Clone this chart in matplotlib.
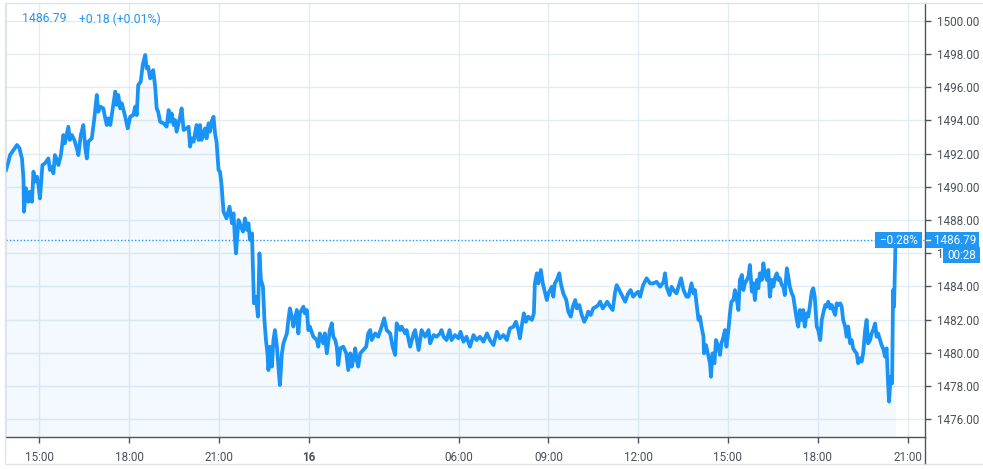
import matplotlib.pyplot as plt
from matplotlib.lines import Line2D
from matplotlib.patches import Rectangle
from matplotlib.transforms import blended_transform_factory

plt.rcParams["font.family"] = ["Roboto", "DejaVu Sans"]

# trading minutes since 15:00 on the 15th (the one hour session break is left out of the axis)
minutes = [
    -67, -62, -59, -52, -45, -40, -35, -32, -31, -27, -22, -19, -15, -12, -9, -5, -2, 1, 6, 11,
    18, 21, 25, 28, 31, 35, 38, 43, 48, 51, 58, 61, 65, 70, 75, 78, 83, 88, 92, 95,
    98, 105, 110, 115, 118, 122, 128, 132, 135, 138, 142, 148, 152, 155, 158, 162, 165, 172, 177, 182,
    188, 192, 195, 198, 203, 207, 212, 215, 218, 222, 225, 228, 232, 235, 238, 242, 249, 255, 259, 262,
    265, 269, 272, 275, 282, 285, 289, 295, 299, 302, 305, 309, 312, 315, 319, 322, 325, 332, 335, 339,
    342, 345, 349, 352, 355, 359, 362, 365, 369, 375,
    381, 386, 389, 392, 394, 399, 404, 408, 412, 416, 419, 422, 426, 428, 430, 434, 438, 441, 444, 448,
    451, 454, 457, 459, 462, 466, 469, 472, 476, 479, 482, 486, 489, 496, 499, 502, 506, 509, 516, 519,
    522, 529, 532, 536, 539, 542, 549, 556, 559, 562, 569, 572, 576, 582, 586, 589, 593, 596, 599, 603,
    609, 615, 619, 623, 626, 629, 633, 636, 639, 643, 649, 655, 659, 663, 666, 673, 679, 686, 691, 696,
    703, 708, 713, 716, 723, 726, 733, 736, 743, 750, 753, 760, 766, 773, 780, 783, 790, 796, 803, 806,
    810, 816, 822,
    826, 833, 840, 844, 850, 856, 863, 870, 876, 883, 890, 897, 903, 910, 917, 923, 930, 937, 943, 950,
    955, 960, 963, 967, 971, 975, 980, 987, 991, 993, 997, 1000, 1005, 1009, 1013, 1017, 1020, 1027, 1030, 1033,
    1037, 1042, 1045, 1050, 1056, 1060, 1065, 1069, 1074, 1077, 1082, 1087, 1092, 1097, 1100, 1105, 1110, 1116, 1120, 1124,
    1129, 1134, 1138, 1144, 1149, 1154, 1157, 1164, 1169, 1174, 1180, 1185, 1190, 1196, 1200, 1204, 1210, 1217, 1224, 1230,
    1237, 1244, 1251, 1254, 1257, 1263, 1267, 1271, 1277, 1283, 1286, 1291, 1297,
    1301, 1304, 1307, 1311, 1314, 1317, 1321, 1324, 1327, 1331, 1332, 1336, 1341, 1344, 1346, 1349, 1353, 1356, 1361, 1364,
    1367, 1371, 1374, 1377, 1381, 1384, 1387, 1391, 1394, 1398, 1401, 1404, 1408, 1411, 1414, 1418, 1421, 1424, 1428, 1431,
    1434, 1438, 1441, 1444, 1448, 1451, 1454, 1458, 1461, 1464, 1468, 1471, 1474, 1478, 1481, 1484, 1488, 1491, 1494, 1498,
    1501, 1504, 1508, 1511, 1514, 1518, 1521, 1524, 1528, 1531, 1534, 1538, 1541, 1544, 1548, 1551, 1554, 1558, 1561, 1565,
    1568, 1571, 1575, 1578, 1581, 1585, 1588, 1591, 1595, 1598, 1601, 1605, 1608, 1611, 1615, 1618, 1621, 1625, 1628, 1631,
    1635, 1638, 1641, 1645, 1648, 1651, 1655, 1658, 1661, 1665, 1668, 1671, 1675, 1678, 1681, 1685, 1688, 1691, 1695, 1698,
    1701, 1703, 1706, 1709, 1711, 1713, 1716,
]

prices = [
    1491.01, 1491.51, 1491.91, 1492.21, 1492.52, 1492.32, 1491.71, 1490.51, 1488.50, 1489.91,
    1489.10, 1489.70, 1489.10, 1490.91, 1490.31, 1490.61, 1490.11, 1489.30, 1491.31, 1491.41,
    1491.71, 1491.01, 1491.21, 1490.81, 1491.91, 1491.61, 1491.31, 1491.91, 1493.12, 1492.62,
    1493.62, 1492.82, 1493.12, 1492.82, 1492.32, 1491.91, 1493.12, 1493.72, 1492.32, 1491.71,
    1492.72, 1492.92, 1494.12, 1495.53, 1494.52, 1494.83, 1494.72, 1494.12, 1493.72, 1494.12,
    1493.72, 1494.93, 1495.73, 1494.93, 1495.53, 1494.72, 1495.03, 1494.22, 1493.52, 1494.22,
    1494.32, 1494.83, 1494.32, 1496.13, 1496.33, 1497.34, 1497.94, 1497.13, 1497.23, 1496.53,
    1496.63, 1497.03, 1496.03, 1494.72, 1494.52, 1493.92, 1493.82, 1493.62, 1494.62, 1493.92,
    1494.42, 1493.72, 1494.02, 1493.32, 1494.22, 1494.72, 1493.42, 1493.52, 1493.62, 1492.42,
    1492.92, 1492.72, 1493.22, 1493.72, 1492.82, 1493.72, 1492.82, 1493.52, 1492.92, 1493.82,
    1493.32, 1493.92, 1494.22, 1493.22, 1492.72, 1491.01, 1490.91, 1490.11, 1488.50, 1488.10,
    1488.80, 1487.80, 1488.40, 1486.80, 1485.99, 1488.00, 1487.60, 1487.30, 1488.10, 1487.40,
    1487.80, 1486.80, 1487.20, 1485.19, 1482.98, 1483.38, 1482.18, 1485.99, 1484.39, 1483.99,
    1481.98, 1480.77, 1479.97, 1478.96, 1480.37, 1479.17, 1480.77, 1481.37, 1480.37, 1479.17,
    1478.06, 1479.97, 1480.57, 1481.17, 1481.98, 1482.68, 1482.18, 1481.58, 1482.58, 1481.17,
    1482.38, 1482.78, 1482.38, 1482.58, 1481.37, 1481.58, 1480.97, 1480.77, 1480.37, 1481.17,
    1480.57, 1481.17, 1479.97, 1481.37, 1481.78, 1480.97, 1480.77, 1480.37, 1479.27, 1480.27,
    1480.37, 1479.97, 1478.96, 1479.97, 1479.17, 1479.57, 1480.27, 1479.57, 1479.17, 1479.97,
    1480.17, 1480.37, 1481.17, 1481.37, 1480.77, 1481.17, 1480.97, 1481.58, 1482.08, 1481.37,
    1481.17, 1480.37, 1479.87, 1481.78, 1481.37, 1481.58, 1481.17, 1481.37, 1480.37, 1481.17,
    1481.37, 1480.17, 1481.37, 1480.97, 1481.37, 1480.57, 1481.07, 1480.97, 1481.17, 1481.37,
    1480.97, 1480.77, 1481.37,
    1480.77, 1481.07, 1480.87, 1481.27, 1480.67, 1480.97, 1480.37, 1481.07, 1480.77, 1480.97,
    1480.67, 1481.17, 1480.77, 1480.47, 1481.27, 1480.87, 1481.07, 1480.77, 1481.47, 1481.57,
    1481.87, 1481.37, 1480.87, 1481.67, 1482.38, 1481.87, 1482.18, 1481.98, 1482.38, 1484.18,
    1484.79, 1484.18, 1484.99, 1484.18, 1483.68, 1483.18, 1483.58, 1483.98, 1483.38, 1484.18,
    1484.39, 1484.79, 1484.18, 1483.58, 1483.18, 1482.48, 1482.18, 1482.78, 1483.18, 1482.68,
    1482.88, 1482.28, 1481.87, 1482.18, 1482.48, 1482.28, 1482.68, 1482.78, 1482.88, 1483.08,
    1482.68, 1482.88, 1483.08, 1482.78, 1482.58, 1483.68, 1484.08, 1483.68, 1483.38, 1483.08,
    1483.58, 1483.78, 1483.38, 1483.58, 1483.68, 1483.38, 1484.08, 1484.49, 1484.18, 1484.18,
    1484.28, 1483.98, 1484.28, 1484.79, 1483.98, 1483.48, 1483.98, 1483.78, 1483.58, 1484.18,
    1484.49, 1483.78, 1483.38,
    1483.38, 1483.78, 1484.19, 1483.58, 1483.78, 1482.98, 1481.98, 1482.18, 1481.58, 1480.97,
    1479.97, 1480.47, 1479.77, 1479.37, 1478.56, 1479.97, 1479.37, 1480.77, 1480.37, 1479.87,
    1480.57, 1480.97, 1481.37, 1480.37, 1481.37, 1482.38, 1483.08, 1483.18, 1483.78, 1483.18,
    1482.58, 1484.39, 1484.69, 1483.78, 1484.19, 1484.39, 1484.59, 1485.29, 1483.69, 1484.19,
    1483.18, 1484.39, 1483.89, 1484.79, 1484.39, 1485.39, 1484.79, 1484.39, 1484.99, 1483.38,
    1484.39, 1483.99, 1484.49, 1484.79, 1484.39, 1484.49, 1484.09, 1483.99, 1483.48, 1485.09,
    1484.59, 1483.99, 1483.58, 1483.38, 1482.78, 1481.98, 1481.58, 1482.58, 1481.98, 1482.58,
    1481.58, 1482.38, 1482.18, 1482.78, 1483.68, 1483.89, 1483.38, 1481.58, 1481.37, 1480.77,
    1481.98, 1482.38, 1482.88, 1482.78, 1483.08, 1482.68, 1482.88, 1482.58, 1482.28, 1482.98,
    1482.88, 1482.98, 1482.78, 1481.98, 1481.58, 1480.97, 1481.58, 1480.57, 1480.77, 1480.27,
    1480.07, 1479.97, 1479.37, 1479.67, 1479.47, 1479.97, 1481.37, 1481.98, 1480.57, 1480.77,
    1481.17, 1481.37, 1481.77, 1480.97, 1481.17, 1480.77, 1480.47, 1480.27, 1479.77, 1480.27,
    1478.16, 1477.06, 1478.56, 1478.16, 1483.78, 1482.78, 1486.79,
]
assert len(minutes) == len(prices)

price_ticks = [1476, 1478, 1480, 1482, 1484, 1486, 1488, 1490, 1492, 1494, 1496, 1498, 1500]
time_ticks = [0, 180, 360, 540, 840, 1020, 1200, 1380, 1560, 1740]
time_labels = ["15:00", "18:00", "21:00", "16", "06:00", "09:00", "12:00", "15:00", "18:00", "21:00"]

last_price = 1486.79
change_text = "+0.18 (+0.01%)"
pct_text = "\u22120.28%"
countdown_text = "00:28"

BLUE = "#2196f3"
LINE = "#1993f5"
GRID = "#e3ecf3"
AXIS = "#50535e"
TEXT = "#4a4f5a"
FRAME = "#e0e3eb"

W, H = 983, 469
fig = plt.figure(figsize=(W / 100, H / 100), dpi=100)
ax = fig.add_axes([6 / W, 32 / H, 919 / W, 434 / H])

ax.plot(minutes, prices, color=LINE, lw=2.7, zorder=3)
ax.fill_between(minutes, prices, 1470, color=BLUE, alpha=0.05, lw=0, zorder=2)
ax.axhline(last_price, color=BLUE, lw=1, ls=(0, (1, 1.5)), zorder=2.5)

ax.set_xlim(-67, 1775)
ax.set_ylim(1474.93, 1501.07)

ax.yaxis.tick_right()
ax.set_yticks(price_ticks, [f"{v:.2f}" for v in price_ticks])
ax.set_xticks(time_ticks, time_labels)
ax.get_xticklabels()[3].set_fontweight("bold")
ax.tick_params(axis="y", length=4, width=1, color=AXIS, pad=5, labelsize=8.4, labelcolor=TEXT)
ax.tick_params(axis="x", length=4, width=1, color=AXIS, pad=6, labelsize=8.4, labelcolor=TEXT)
ax.grid(True, color=GRID, lw=1, zorder=0)
ax.set_axisbelow(True)

ax.spines["top"].set_visible(False)
ax.spines["left"].set_color(FRAME)
for side in ("right", "bottom"):
    ax.spines[side].set_color(AXIS)
    ax.spines[side].set_linewidth(1)

# widget frame and the price scale divider running below the time axis
fig.add_artist(Rectangle((5 / W, 5 / H), 1.0, 461 / H, transform=fig.transFigure,
                         fill=False, ec=FRAME, lw=1))
fig.add_artist(Line2D([925 / W, 925 / W], [6 / H, 32 / H], color=AXIS, lw=1))

# last price labels
tr = blended_transform_factory(fig.transFigure, ax.transData)
box_h = 16 / 16.6
ax.add_patch(Rectangle((875 / W, last_price - box_h / 2), 47 / W, box_h, transform=tr,
                       fc=BLUE, ec="none", clip_on=False, zorder=6))
ax.text(898.5 / W, last_price, pct_text, transform=tr, ha="center", va="center",
        color="white", fontsize=8.4, zorder=7, clip_on=False)
ax.add_patch(Rectangle((926 / W, last_price - box_h / 2), 53 / W, box_h, transform=tr,
                       fc=BLUE, ec="none", clip_on=False, zorder=6))
ax.add_line(Line2D([926 / W, 930 / W], [last_price, last_price], transform=tr,
                   color="white", lw=1, clip_on=False, zorder=7))
ax.text(955 / W, last_price, f"{last_price:.2f}", transform=tr, ha="center", va="center",
        color="white", fontsize=8.4, zorder=7, clip_on=False)
ax.add_patch(Rectangle((943 / W, last_price - 0.9 - box_h / 2), 37 / W, box_h, transform=tr,
                       fc=BLUE, ec="none", clip_on=False, zorder=6))
ax.text(961.5 / W, last_price - 0.9, countdown_text, transform=tr, ha="center", va="center",
        color="white", fontsize=8.4, zorder=7, clip_on=False)

# header
fig.text(22 / W, 1 - 19 / H, f"{last_price:.2f}", color=BLUE, fontsize=8.8, va="center")
fig.text(79 / W, 1 - 19 / H, change_text, color=BLUE, fontsize=8.8, va="center")

fig.savefig("out.png", dpi=100)
